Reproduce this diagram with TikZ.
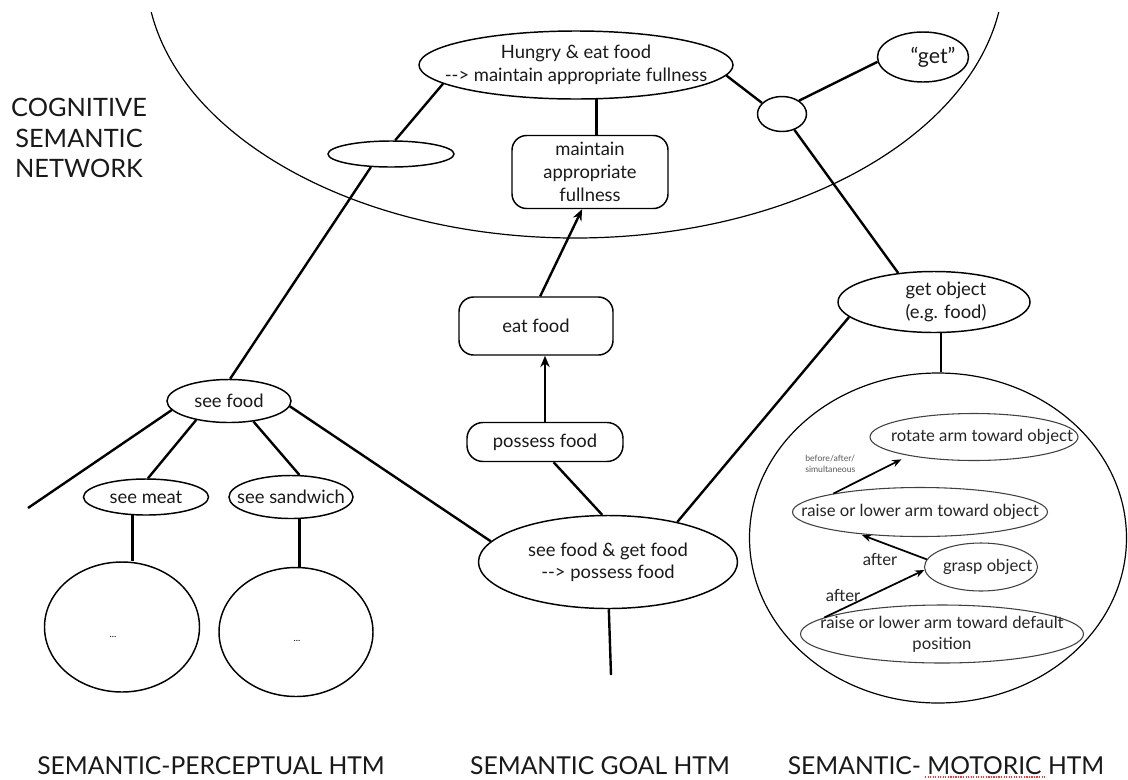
\documentclass[tikz,border=0pt]{standalone}
\usepackage{fontspec}
\setmainfont{Lato}
\usetikzlibrary{shapes.geometric,arrows.meta}
\begin{document}
\begin{tikzpicture}[x=0.75pt,y=-0.75pt,
  sz/.style 2 args={minimum width=#1*0.75pt,minimum height=#2*0.75pt},
  ell/.style={draw,ellipse,line width=1.1pt,inner sep=0pt},
  sell/.style={draw=black!75,ellipse,line width=0.8pt,inner sep=0pt},
  rbox/.style={draw,rectangle,rounded corners=11pt,line width=1.1pt,inner sep=0pt,align=center,font=\fontsize{13.8}{17.25}\selectfont,text=black!90},
  txt/.style={inner sep=0pt,align=center,font=\fontsize{13.8}{17.5}\selectfont,text=black!90},
  stxt/.style={inner sep=0pt,align=center,font=\fontsize{12.5}{15.75}\selectfont,text=black!85},
  tiny/.style={inner sep=0pt,align=left,font=\fontsize{6.5}{8}\selectfont,text=black!65},
  dots/.style={inner sep=0pt,font=\fontsize{7}{8}\selectfont},
  big/.style={inner sep=0pt,align=center,font=\fontsize{18.5}{23}\selectfont,text=black!90},
  conn/.style={line width=1.8pt},
  arr/.style={line width=1.8pt,-{Stealth[length=8.5pt,width=7pt]}},
  sarr/.style={line width=1.3pt,-{Stealth[length=7pt,width=5.5pt]}}]
\fill[white] (0,0) rectangle (1128,779);
\useasboundingbox (0,0) rectangle (1128,779);
% cognitive network boundary
\begin{scope}
  \clip (0,12) rectangle (1128,779);
  \draw[line width=0.9pt] (575,-30) ellipse [x radius=429, y radius=268];
\end{scope}
\node[big,font=\fontsize{19}{23}\selectfont] (cog) at (79,138) {COGNITIVE\\SEMANTIC\\NETWORK};
% cognitive nodes
\node[ell,sz={314}{68},label={[txt]center:{Hungry \& eat food\\-\kern0pt-\kern0pt> maintain appropriate fullness}}] (hungry) at (576,65) {};
\node[ell,sz={126}{26}] (small) at (391,154) {};
\node[rbox,sz={156}{73}] (maintain) at (590,172) {maintain\\appropriate\\fullness};
\node[ell,sz={49}{35}] (circ) at (782,114) {};
\node[ell,sz={91}{50},label={[txt,font=\fontsize{16}{18}\selectfont]center:{\hspace*{15pt}“get”}}] (get) at (923,57) {};
% goal HTM
\node[rbox,sz={154}{58}] (eatfood) at (536,326) {eat food};
\node[rbox,sz={156}{39},rounded corners=12pt] (possess) at (545,442) {possess food};
\node[ell,sz={259}{93},label={[txt,font=\fontsize{13.8}{16.5}\selectfont]center:{see food \& get food\\-\kern0pt-\kern0pt> possess food}}] (sfgf) at (608,562) {};
\coordinate (goalend) at (611,675);
% perceptual HTM
\node[ell,sz={124}{43},label={[txt]center:{see food}}] (seefood) at (229,401) {};
\node[ell,sz={125}{36},label={[txt]center:{see meat}}] (seemeat) at (146,497) {};
\node[ell,sz={124}{43},label={[txt]center:{see sandwich}}] (seesand) at (291,497) {};
\node[ell,sz={155}{130}] (circL) at (122,627) {};
\node[ell,sz={154}{129}] (circM) at (296,632) {};
\node[dots] (dotsL) at (113,637) {...};
\node[dots] (dotsM) at (297,641) {...};
\coordinate (percleft) at (28,508);
% motoric HTM
\node[ell,sz={192}{61},label={[txt,font=\fontsize{13.8}{17}\selectfont]center:{\hspace*{18pt}get object\\\hspace*{18pt}(e.g. food)}}] (getobj) at (934,302) {};
\node[draw,ellipse,line width=0.9pt,inner sep=0pt,sz={377}{330}] (bigR) at (938,538) {};
\node[sell,sz={208}{47},label={[stxt]center:{\hspace*{12pt}rotate arm toward object}}] (rotate) at (974,437) {};
\node[sell,sz={255}{49},label={[stxt]center:{raise or lower arm toward object}}] (raise1) at (920,512) {};
\node[sell,sz={113}{48},label={[stxt]center:{\hspace*{10pt}grasp object}}] (grasp) at (981,567) {};
\node[sell,sz={283}{58},label={[stxt]center:{raise or lower arm toward default\\position}}] (raise2) at (942,634) {};
\node[tiny,anchor=west] (bas) at (805,464) {before/after/\\simultaneous};
\node[stxt] (after1) at (880,559) {after};
\node[stxt] (after2) at (843,595) {after};
% bottom labels
\node[big] (lblP) at (211,766) {SEMANTIC-PERCEPTUAL HTM};
\node[big] (lblG) at (600,766) {SEMANTIC GOAL HTM};
\node[big] (lblM) at (946,766) {SEMANTIC- MOTORIC HTM};
\draw[red!80,densely dotted,line width=0.9pt] (925,777) -- (1046,777);
% connectors: cognitive
\draw[conn] (hungry.188) -- (small.73);
\draw[conn] (small.213) -- (seefood.87);
\draw[conn] (hungry.-59.3) -- (hungry.-59.3 |- maintain.north);
\draw[conn] (hungry.-4) -- (circ.151);
\draw[conn] (circ.38) -- (get.186);
\draw[conn] (circ.-52) -- (getobj.141);
% goal
\draw[arr] (eatfood.82) -- (maintain.-102);
\draw[arr] (possess.north) -- (possess.north |- eatfood.south);
\draw[conn] (possess.-67.7) -- (sfgf.97);
\draw[conn] (seefood.-5) -- (sfgf.170);
\draw[conn] (getobj.190) -- (sfgf.30);
\draw[conn] (sfgf.-89) -- (goalend);
% perceptual
\draw[conn] (seefood.189) -- (percleft);
\draw[conn] (seefood.210) -- (seemeat.84);
\draw[conn] (seefood.-40) -- (seesand.69);
\draw[conn] (seemeat.-126) -- (seemeat.-126 |- circL.north);
\draw[conn] (seesand.-69) -- (seesand.-69 |- circM.north);
% motoric
\draw[conn] (getobj.-77) -- (getobj.-77 |- bigR.north);
\draw[sarr,shorten >=6pt] (raise1.168) -- (rotate.196);
\draw[sarr,shorten >=2pt] (grasp.172) -- (raise1.-160);
\draw[sarr] (raise2.172) -- (grasp.183);
\end{tikzpicture}
\end{document}
